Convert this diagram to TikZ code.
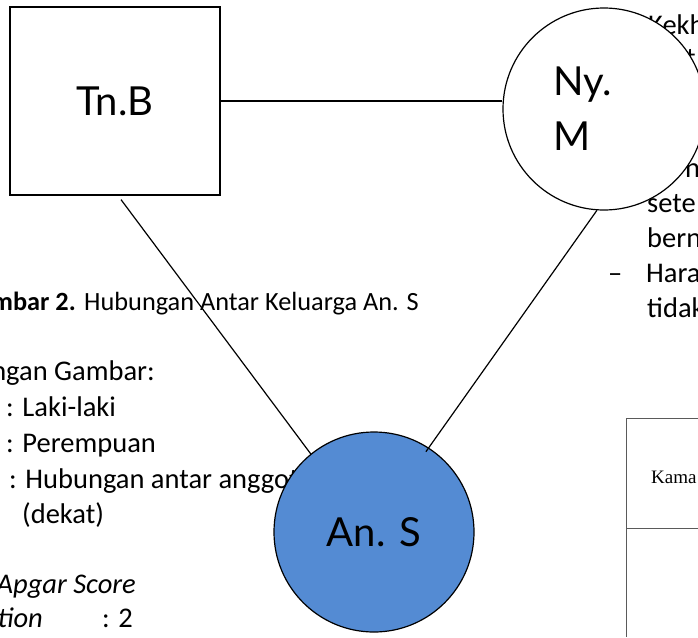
\documentclass[tikz,border=0pt]{standalone}
\usepackage{fontspec}
\setmainfont{Carlito}
\newfontfamily\shapefont{Lato}
\newfontfamily\tablefont{Liberation Serif}
\usetikzlibrary{calc}

\definecolor{childblue}{RGB}{84,139,211}
\definecolor{tablegray}{RGB}{90,90,90}

\tikzset{
  member/.style={draw, line width=1.2pt, inner sep=0pt, font=\shapefont\fontsize{40}{55}\selectfont},
  male/.style={member, rectangle, fill=white, minimum width=210pt, minimum height=188pt},
  female/.style={member, circle, fill=white, minimum size=202pt, text width=102pt, align=left},
  child/.style={member, circle, fill=childblue, minimum size=200pt},
  tie/.style={line width=1.2pt},
  doc/.style={inner sep=0pt, font=\fontsize{28.5}{36}\selectfont},
  caption/.style={inner sep=0pt, font=\fontsize{26.3}{35}\selectfont},
}

\begin{document}
\begin{tikzpicture}[x=1pt, y=-1pt]
        \clip (0,0) rectangle (698,637);
        \fill[white] (0,0) rectangle (698,637);

        % page text behind the genogram
        \node[caption, anchor=base east] (capnum) at (76,310) {\textbf{mbar 2.}};
        \node[caption, anchor=base west] (captext) at (84,310) {Hubungan Antar Keluarga An. S};
        \node[doc, anchor=base east] (legend) at (155,380) {ngan Gambar:};
        \node[doc, anchor=base west] (legmale) at (6,416) {: Laki-laki};
        \node[doc, anchor=base west] (legfemale) at (6,452) {: Perempuan};
        \node[doc, anchor=base west] (legtie) at (9,488) {: Hubungan antar anggota};
        \node[doc, anchor=base west] (legtie2) at (22,523) {(dekat)};
        \node[doc, anchor=base east] (apgar) at (136,593) {\textit{Apgar Score}};
        \node[doc, anchor=base east] (apgar1) at (43,627) {\textit{tion}};
        \node[doc, anchor=base west] (apgar1v) at (102,627) {: 2};

        \node[doc, anchor=base west] (r1) at (648,34) {Kekh};
        \node[doc, anchor=base west] (r2) at (686,67) {t};
        \node[doc, anchor=base west] (r5) at (685,177) {n};
        \node[doc, anchor=base west] (r6) at (647,212) {sete};
        \node[doc, anchor=base west] (r7) at (647,247) {bern};
        \node[doc, anchor=base west] (rdash) at (608,282) {--};
        \node[doc, anchor=base west] (r8) at (646,282) {Hara};
        \node[doc, anchor=base west] (r9) at (647,317) {tidak};

        \draw[tablegray, line width=1pt] (698,418) -| (626,637);
        \draw[tablegray, line width=1pt] (626,528) -- (698,528);
        \node[inner sep=0pt, anchor=base west, font=\tablefont\fontsize{19}{23}\selectfont] (kama) at (651,483) {Kama};

        % genogram
        \node[male] (tnb) at (115,101) {Tn.B};
        \node[female] (nym) at (604,109) {Ny.\\M};
        \node[child] (ans) at (374,532) {An. S};

        \coordinate (tnbfoot) at ($(tnb.south)+(6,4)$);
        \draw[tie] (tnb.east) -- (tnb.east -| nym.west);
        \draw[tie] (tnbfoot) -- (ans.129);
        \draw[tie, shorten >=-5pt] (nym.266) -- (ans.57);

    \end{tikzpicture}
\end{document}
